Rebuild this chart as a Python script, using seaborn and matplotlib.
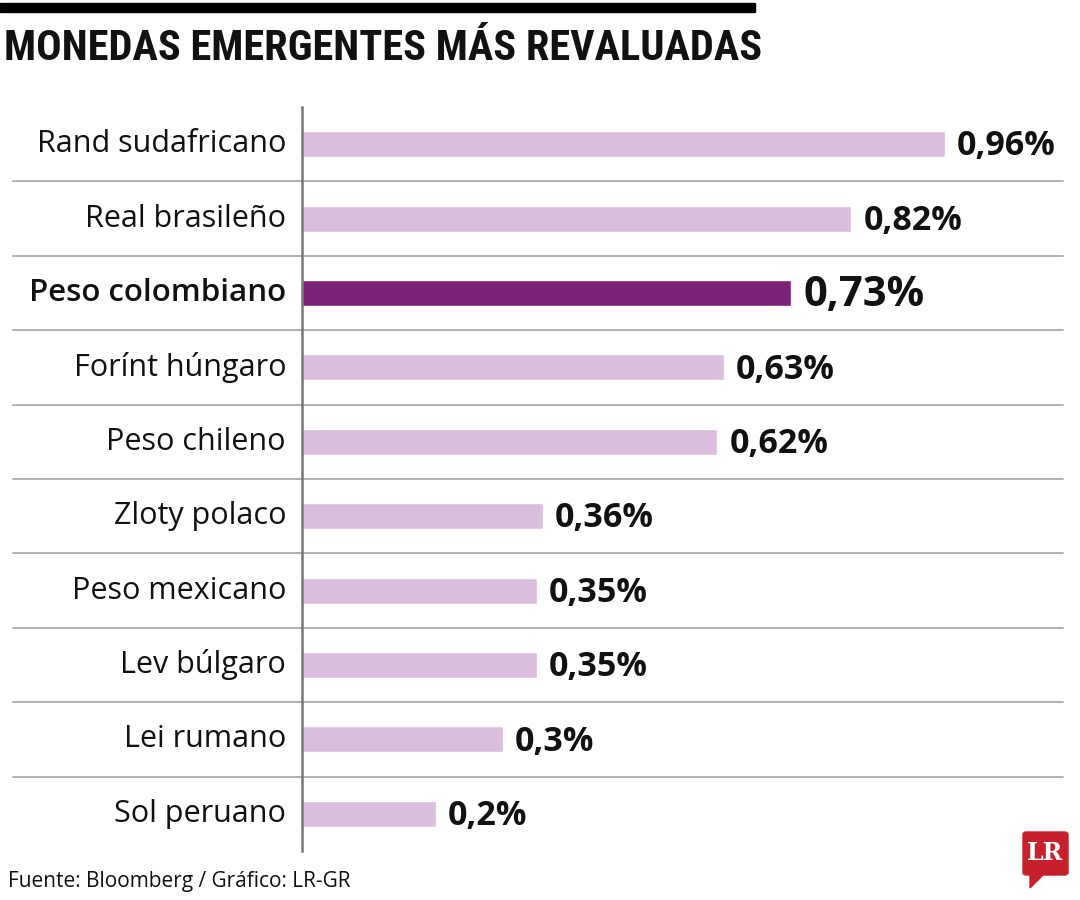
import pandas as pd
import matplotlib.pyplot as plt
import seaborn as sns
from matplotlib import font_manager
from matplotlib.patches import Rectangle, Polygon, FancyBboxPatch

monedas = ["Rand sudafricano", "Real brasileño", "Peso colombiano", "Forínt húngaro",
           "Peso chileno", "Zloty polaco", "Peso mexicano", "Lev búlgaro",
           "Lei rumano", "Sol peruano"]
revaluacion = [0.96, 0.82, 0.73, 0.63, 0.62, 0.36, 0.35, 0.35, 0.3, 0.2]
etiquetas = ["0,96%", "0,82%", "0,73%", "0,63%", "0,62%", "0,36%", "0,35%", "0,35%", "0,3%", "0,2%"]
destacado = "Peso colombiano"

df = pd.DataFrame({"moneda": monedas, "valor": revaluacion, "etiqueta": etiquetas})
df["grupo"] = ["col" if m == destacado else "otro" for m in df["moneda"]]

sns.set_theme(style="white")
installed = {f.name for f in font_manager.fontManager.ttflist}
base_font = "Open Sans" if "Open Sans" in installed else "DejaVu Sans"
title_font = base_font
for cand in ["Roboto Condensed", "Liberation Sans Narrow", "Lato"]:
    if cand in installed:
        title_font = cand
        break
plt.rcParams["font.family"] = [base_font, "DejaVu Sans"]

fig = plt.figure(figsize=(10.8, 9), dpi=100)
ax = fig.add_axes([302 / 1080, 49 / 900, 761 / 1080, 744 / 900])

sns.barplot(data=df, x="valor", y="moneda", hue="grupo", order=monedas,
            palette={"otro": "#dbbedd", "col": "#7b2277"}, dodge=False,
            saturation=1, width=0.35, legend=False, ax=ax)

ax.set_xlim(0, 761 / 670)
ax.set_ylim(len(monedas) - 0.5, -0.5)
ax.set_xlabel("")
ax.set_ylabel("")
ax.set_xticks([])
ax.set_yticks([])
for s in ["top", "right", "bottom"]:
    ax.spines[s].set_visible(False)
ax.spines["left"].set_color("#777777")
ax.spines["left"].set_linewidth(1.8)

# separadores entre filas, se extienden hacia la zona de etiquetas
for i in range(len(monedas) - 1):
    ax.plot([-289 / 670, 761 / 670], [i + 0.5, i + 0.5], color="#aaaaaa",
            lw=1.3, clip_on=False, zorder=0)

for i, row in df.iterrows():
    big = row["moneda"] == destacado
    ax.text(-16 / 670, i, row["moneda"], ha="right", va="center",
            fontsize=22.5 if big else 22, fontweight="semibold" if big else "normal",
            color="#111111")
    ax.text(row["valor"] + 12 / 670, i + 0.03, row["etiqueta"], ha="left", va="center",
            fontsize=30 if big else 24.5, fontweight="bold", color="#111111")

# barra negra superior y titulo
fig.patches.append(Rectangle((0, 1 - 12 / 900), 755 / 1080, 9 / 900,
                             transform=fig.transFigure, color="black"))
fig.text(4 / 1080, 1 - 49 / 900, "MONEDAS EMERGENTES MÁS REVALUADAS",
         fontsize=30.5, fontweight="bold", family=[title_font, "DejaVu Sans"],
         ha="left", va="center", color="#111111")

fig.text(8 / 1080, 1 - 882 / 900, "Fuente: Bloomberg / Gráfico: LR-GR",
         fontsize=15, ha="left", va="center", color="#111111")

# logo LR
fig.patches.append(FancyBboxPatch((1023 / 1080, 1 - 875 / 900), 45 / 1080, 43 / 900,
                                  boxstyle="round,pad=0,rounding_size=0.003",
                                  transform=fig.transFigure, color="#c8202a"))
fig.patches.append(Polygon([(1030 / 1080, 1 - 874 / 900), (1044 / 1080, 1 - 874 / 900),
                            (1030 / 1080, 1 - 888 / 900)], closed=True,
                           transform=fig.transFigure, color="#c8202a"))
fig.text(1045.5 / 1080, 1 - 853 / 900, "LR", fontsize=17, fontweight="bold",
         family=["DejaVu Serif"], color="white", ha="center", va="center")

plt.savefig("out.png", dpi=100)
